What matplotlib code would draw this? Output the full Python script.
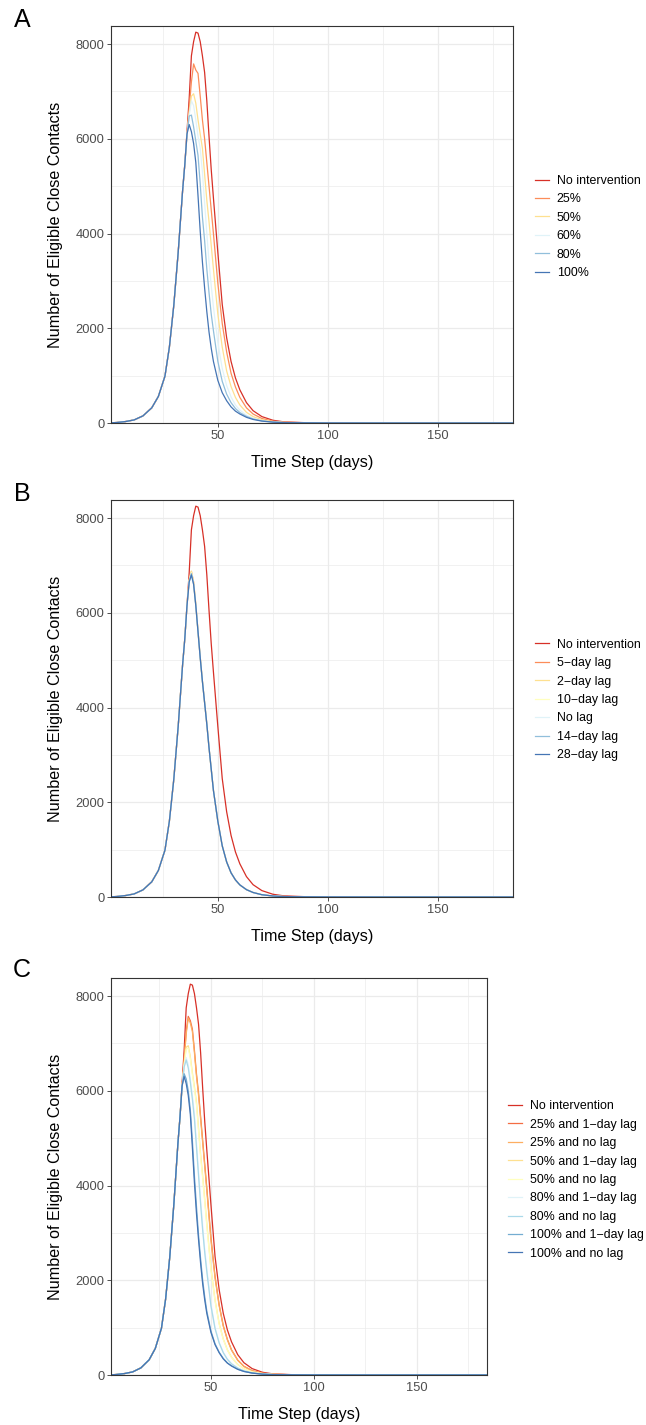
import matplotlib
matplotlib.use("Agg")
import matplotlib.pyplot as plt
from matplotlib.ticker import MultipleLocator

plt.rcParams['font.family'] = ['Liberation Sans', 'DejaVu Sans']

# time steps (days)
days = [1, 4, 8, 12, 16, 20, 23, 26, 28, 30, 32, 34, 35,
        36, 37, 38, 39, 40, 41, 42, 43, 44, 45, 46, 47, 48,
        50, 52, 54, 56, 58, 60, 63, 66, 70, 75, 80,
        90, 100, 120, 150, 184]

# shared early growth (days 1..35)
rise = [3, 10, 30, 65, 150, 320, 560, 990, 1600, 2480, 3600, 4900, 5450]

no_int = rise + [6150, 6850, 7750, 8050, 8250, 8230, 8050, 7750, 7400, 6800, 6050, 5350, 4750,
                 3600, 2500, 1800, 1300, 950, 700, 430, 260, 135, 58, 24, 6, 2, 1, 0, 0]

# panel A: coverage
a_25 = rise + [6100, 6650, 7200, 7580, 7450, 7380, 6900, 6400, 6000, 5500, 5000, 4500, 4000,
               2950, 2100, 1500, 1050, 760, 540, 320, 190, 95, 40, 16, 5, 2, 1, 0, 0]
a_50 = rise + [6080, 6550, 6900, 6950, 6750, 6400, 6100, 5800, 5250, 4700, 4250, 3750, 3250,
               2300, 1600, 1100, 770, 540, 380, 225, 135, 68, 29, 12, 4, 1, 0, 0, 0]
a_60 = rise + [6080, 6500, 6800, 6700, 6400, 6050, 5800, 5300, 4650, 4000, 3400, 2900, 2450,
               1700, 1150, 790, 550, 380, 270, 165, 100, 50, 22, 10, 3, 1, 0, 0, 0]
a_80 = rise + [6080, 6480, 6500, 6250, 5950, 5650, 5050, 4350, 3850, 3250, 2750, 2300, 1950,
               1300, 880, 610, 430, 305, 220, 140, 85, 45, 20, 9, 3, 1, 0, 0, 0]
a_100 = rise + [6100, 6300, 6150, 5900, 5500, 4800, 4050, 3400, 2850, 2350, 1920, 1580, 1300,
                900, 640, 470, 340, 250, 190, 120, 75, 40, 18, 8, 3, 1, 0, 0, 0]

# panel B: lag
b_5 = rise + [6160, 6700, 6870, 6650, 6180, 5620, 5070, 4560, 4100, 3650, 3150, 2700, 2250,
              1600, 1080, 740, 510, 360, 255, 155, 95, 48, 21, 9, 3, 1, 0, 0, 0]
b_2 = rise + [6160, 6700, 6880, 6640, 6170, 5610, 5060, 4560, 4100, 3650, 3150, 2700, 2250,
              1600, 1080, 740, 510, 360, 255, 155, 95, 48, 21, 9, 3, 1, 0, 0, 0]
b_10 = rise + [6150, 6680, 6850, 6620, 6160, 5600, 5050, 4550, 4100, 3650, 3150, 2700, 2250,
               1600, 1080, 740, 510, 360, 255, 155, 95, 48, 21, 9, 3, 1, 0, 0, 0]
b_0 = rise + [6150, 6660, 6820, 6610, 6150, 5600, 5050, 4550, 4100, 3650, 3150, 2700, 2250,
              1600, 1080, 740, 510, 360, 255, 155, 95, 48, 21, 9, 3, 1, 0, 0, 0]
b_14 = rise + [6150, 6660, 6830, 6610, 6150, 5600, 5050, 4550, 4100, 3650, 3150, 2700, 2250,
               1600, 1080, 740, 510, 360, 255, 155, 95, 48, 21, 9, 3, 1, 0, 0, 0]
b_28 = rise + [6150, 6650, 6800, 6600, 6150, 5600, 5050, 4550, 4100, 3650, 3150, 2700, 2250,
               1600, 1080, 740, 510, 360, 255, 155, 95, 48, 21, 9, 3, 1, 0, 0, 0]

# panel C: coverage and lag
c_25_1 = rise + [6100, 6650, 7250, 7570, 7480, 7300, 6850, 6350, 5950, 5450, 4950, 4450, 3950,
                 2900, 2080, 1480, 1040, 750, 530, 315, 185, 92, 39, 15, 5, 2, 1, 0, 0]
c_25_0 = rise + [6100, 6650, 7200, 7530, 7430, 7250, 6800, 6300, 5900, 5400, 4900, 4400, 3900,
                 2850, 2050, 1460, 1030, 740, 525, 310, 180, 90, 38, 15, 5, 2, 1, 0, 0]
c_50_1 = rise + [6080, 6560, 6920, 6950, 6720, 6380, 6080, 5750, 5200, 4650, 4200, 3700, 3200,
                 2260, 1580, 1090, 760, 530, 375, 222, 133, 67, 28, 12, 4, 1, 0, 0, 0]
c_50_0 = rise + [6080, 6540, 6880, 6900, 6680, 6340, 6040, 5700, 5150, 4600, 4150, 3650, 3150,
                 2230, 1560, 1070, 750, 525, 370, 220, 130, 66, 28, 12, 4, 1, 0, 0, 0]
c_80_1 = rise + [6080, 6520, 6700, 6550, 6250, 5900, 5500, 4900, 4300, 3700, 3150, 2650, 2250,
                 1500, 1000, 690, 480, 335, 240, 150, 90, 47, 21, 9, 3, 1, 0, 0, 0]
c_80_0 = rise + [6080, 6500, 6650, 6480, 6180, 5820, 5400, 4800, 4200, 3600, 3050, 2580, 2180,
                 1460, 980, 675, 470, 330, 235, 147, 88, 46, 21, 9, 3, 1, 0, 0, 0]
c_100_1 = rise + [6100, 6360, 6250, 6000, 5600, 4950, 4200, 3550, 2950, 2450, 2000, 1650, 1350,
                  930, 660, 480, 350, 255, 193, 122, 76, 41, 18, 8, 3, 1, 0, 0, 0]
c_100_0 = rise + [6100, 6300, 6150, 5900, 5500, 4800, 4050, 3400, 2850, 2350, 1920, 1580, 1300,
                  900, 640, 470, 340, 250, 190, 120, 75, 40, 18, 8, 3, 1, 0, 0, 0]

labels_a = ['No intervention', '25%', '50%', '60%', '80%', '100%']
labels_b = ['No intervention', '5\u2212day lag', '2\u2212day lag', '10\u2212day lag',
            'No lag', '14\u2212day lag', '28\u2212day lag']
labels_c = ['No intervention', '25% and 1\u2212day lag', '25% and no lag', '50% and 1\u2212day lag',
            '50% and no lag', '80% and 1\u2212day lag', '80% and no lag',
            '100% and 1\u2212day lag', '100% and no lag']

colors_6 = ['#D73027', '#FC8D59', '#FEE090', '#E0F3F8', '#91BFDB', '#4575B4']
colors_7 = ['#D73027', '#FC8D59', '#FEE090', '#FFFFBF', '#E0F3F8', '#91BFDB', '#4575B4']
colors_9 = ['#D73027', '#F46D43', '#FDAE61', '#FEE090', '#FFFFBF', '#E0F3F8',
            '#ABD9E9', '#74ADD1', '#4575B4']

W, H = 646, 1425
fig = plt.figure(figsize=(W / 100, H / 100), dpi=100)


def panel(box, series, labels, colors, letter, letter_y, leg_x, leg_y):
    left, top, right, bottom = box
    ax = fig.add_axes([left / W, 1 - bottom / H, (right - left) / W, (bottom - top) / H])
    for s, lab, c in zip(series, labels, colors):
        ax.plot(days, s, color=c, lw=0.9, label=lab)
    ax.set_xlim(1.5, 184)
    ax.set_ylim(0, 8380)
    ax.xaxis.set_major_locator(MultipleLocator(50))
    ax.xaxis.set_minor_locator(MultipleLocator(25))
    ax.yaxis.set_major_locator(MultipleLocator(2000))
    ax.yaxis.set_minor_locator(MultipleLocator(1000))
    ax.grid(which='major', color='#EBEBEB', lw=0.9)
    ax.grid(which='minor', color='#EBEBEB', lw=0.5)
    ax.set_axisbelow(True)
    ax.tick_params(which='major', length=2.75, width=0.6, color='#333333',
                   labelsize=9.3, labelcolor='#4D4D4D', pad=2)
    ax.tick_params(which='minor', length=0)
    for sp in ax.spines.values():
        sp.set_color('#333333')
        sp.set_linewidth(0.8)
    wpx = right - left
    hpx = bottom - top
    ax.set_xlabel('Time Step (days)', fontsize=11.6)
    ax.xaxis.set_label_coords(0.5, -32 / hpx)
    ax.set_ylabel('Number of Eligible Close Contacts', fontsize=11.6)
    ax.yaxis.set_label_coords(-48 / wpx, 0.5)
    ax.legend(loc='center left', bbox_to_anchor=(leg_x / W, 1 - leg_y / H),
              bbox_transform=fig.transFigure, frameon=False, fontsize=8.9,
              handlelength=1.15, handletextpad=0.6, labelspacing=0.52,
              borderpad=0, borderaxespad=0)
    fig.text(22 / W, 1 - letter_y / H, letter, fontsize=18, ha='center', va='center')


panel((111, 26, 513, 423), [no_int, a_25, a_50, a_60, a_80, a_100],
      labels_a, colors_6, 'A', 20, 535, 227)
panel((111, 500, 513, 897), [no_int, b_5, b_2, b_10, b_0, b_14, b_28],
      labels_b, colors_7, 'B', 494, 535, 700)
panel((111, 978, 487, 1375), [no_int, c_25_1, c_25_0, c_50_1, c_50_0, c_80_1, c_80_0, c_100_1, c_100_0],
      labels_c, colors_9, 'C', 970, 508, 1180)

fig.savefig('out.png', dpi=100)
